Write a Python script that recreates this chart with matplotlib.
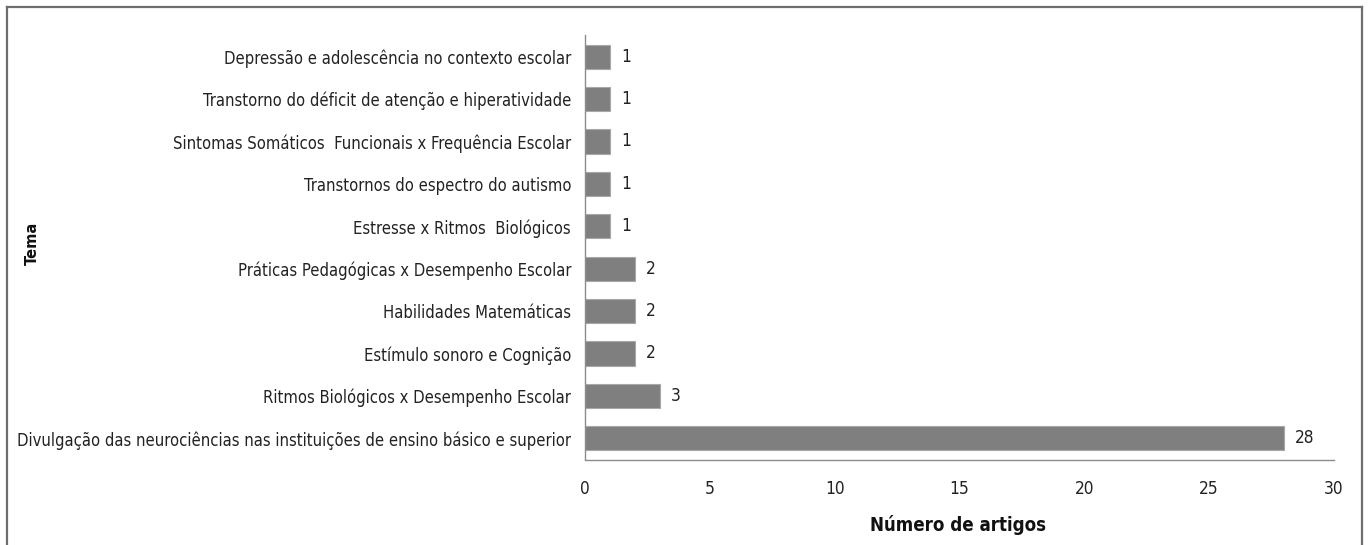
import matplotlib
matplotlib.use("Agg")
import matplotlib.pyplot as plt
from matplotlib.lines import Line2D
from matplotlib import font_manager

categories = [
    "Divulgação das neurociências nas instituições de ensino básico e superior",
    "Ritmos Biológicos x Desempenho Escolar",
    "Estímulo sonoro e Cognição",
    "Habilidades Matemáticas",
    "Práticas Pedagógicas x Desempenho Escolar",
    "Estresse x Ritmos  Biológicos",
    "Transtornos do espectro do autismo",
    "Sintomas Somáticos  Funcionais x Frequência Escolar",
    "Transtorno do déficit de atenção e hiperatividade",
    "Depressão e adolescência no contexto escolar",
]
values = [28, 3, 2, 2, 2, 1, 1, 1, 1, 1]
xticks = [0, 5, 10, 15, 20, 25, 30]

names = {f.name for f in font_manager.fontManager.ttflist}
if "Liberation Sans Narrow" in names:
    FAM, STRETCH = "Liberation Sans Narrow", "normal"
else:
    FAM, STRETCH = "DejaVu Sans", "condensed"

W, H = 1371, 545
fig = plt.figure(figsize=(W / 100, H / 100), dpi=100)
ax = fig.add_axes([585 / W, 1 - 459.5 / H, (1334 - 585) / W, (459.5 - 35.5) / H])

# fit the longest label to the reference width (~552 px)
renderer = fig.canvas.get_renderer()
probe = fig.text(0, 0, categories[0], fontsize=10, family=FAM, fontstretch=STRETCH)
wpx = probe.get_window_extent(renderer).width
probe.remove()
FS = min(13.0, 10 * 552 / wpx)

y = list(range(len(categories)))
ax.barh(y, values, height=0.57, color="#7f7f7f", edgecolor="#a8a8a8", linewidth=0.8)
ax.set_xlim(0, 30)
ax.set_ylim(-0.5, len(categories) - 0.5)
ax.set_yticks(y)
ax.set_yticklabels(categories, fontsize=FS, family=FAM, fontstretch=STRETCH, color="#222222")
ax.set_xticks(xticks)
ax.set_xticklabels([str(t) for t in xticks], fontsize=FS + 0.5, family=FAM, fontstretch=STRETCH, color="#222222")
ax.tick_params(axis="both", length=0)
ax.tick_params(axis="y", pad=10)
ax.tick_params(axis="x", pad=15)
for s in ["top", "right"]:
    ax.spines[s].set_visible(False)
for s in ["left", "bottom"]:
    ax.spines[s].set_color("#8c8c8c")
    ax.spines[s].set_linewidth(1.0)

for yi, v in zip(y, values):
    ax.text(v + 0.45, yi, str(v), va="center", ha="left", fontsize=FS + 0.5,
            family=FAM, fontstretch=STRETCH, color="#222222")

fig.text(958 / W, 1 - 525 / H, "Número de artigos", ha="center", va="center",
         fontsize=FS + 1.5, family=FAM, fontstretch=STRETCH, fontweight="bold", color="#111111")
fig.text(32 / W, 1 - 243 / H, "Tema", ha="center", va="center", rotation=90,
         fontsize=10.5, fontweight="bold", color="#111111")

# outer frame
for (x0, y0, x1, y1) in [(7, 7, 1362, 7), (7, 7, 7, 545), (1362, 7, 1362, 545)]:
    fig.add_artist(Line2D([x0 / W, x1 / W], [1 - y0 / H, 1 - y1 / H], color="#6e6e6e", lw=1.6))

fig.savefig("out.png", dpi=100)
